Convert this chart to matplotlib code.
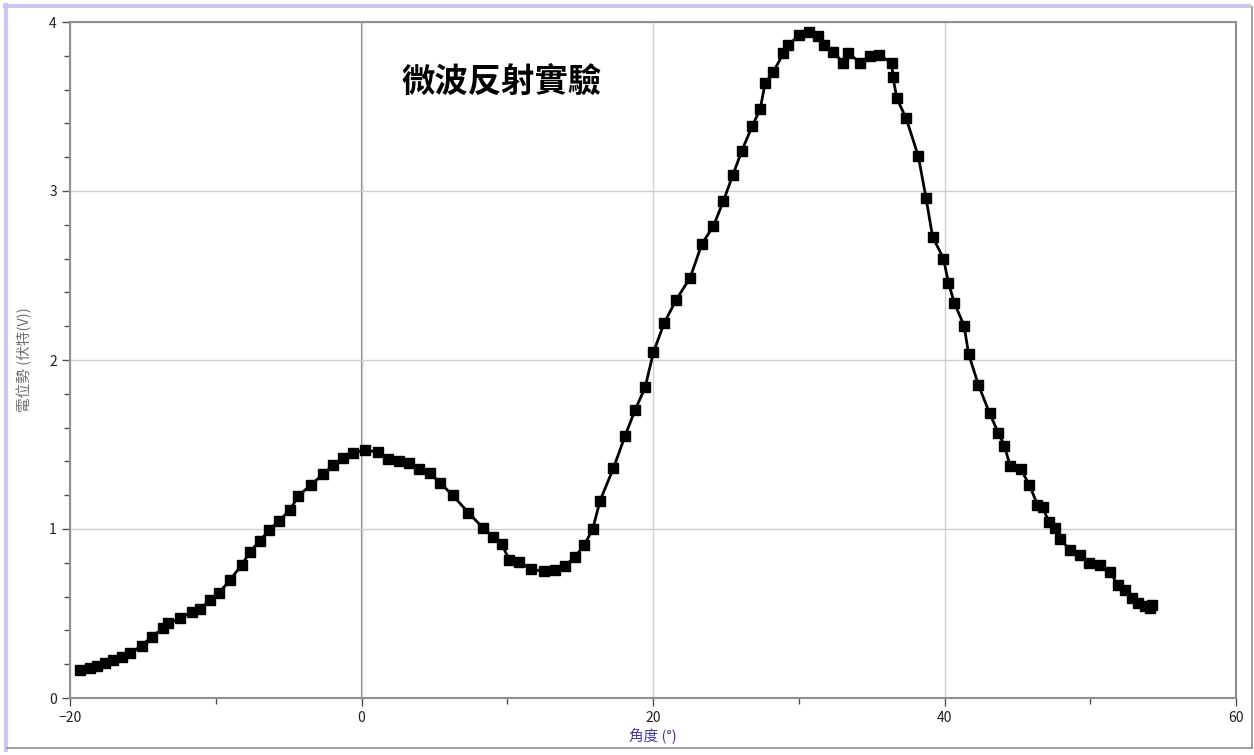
import matplotlib
matplotlib.use("Agg")
import matplotlib.pyplot as plt
from matplotlib.ticker import MultipleLocator

plt.rcParams['font.family'] = ['Noto Sans CJK TC', 'DejaVu Sans']

title = "微波反射實驗"
x_label = "角度 (°)"
y_label = "電位勢 (伏特(V))"

angle = [-19.32, -18.63, -18.18, -17.60, -17.03, -16.46, -15.89, -15.09, -14.40, -13.60,
         -13.26, -12.46, -11.65, -11.08, -10.40, -9.76, -9.03, -8.22, -7.65, -6.97,
         -6.33, -5.66, -4.91, -4.34, -3.49, -2.62, -1.94, -1.29, -0.56, 0.24,
         1.15, 1.84, 2.59, 3.28, 3.97, 4.70, 5.39, 6.26, 7.33, 8.36,
         9.05, 9.62, 10.14, 10.83, 11.61, 12.53, 13.28, 13.97, 14.65, 15.29,
         15.87, 16.37, 17.28, 18.08, 18.77, 19.46, 20.03, 20.76, 21.58, 22.55,
         23.35, 24.15, 24.83, 25.48, 26.09, 26.81, 27.35, 27.69, 28.26, 28.95,
         29.29, 30.05, 30.67, 31.35, 31.70, 32.38, 33.07, 33.41, 34.21, 34.90,
         35.54, 36.39, 36.46, 36.73, 37.37, 38.20, 38.73, 39.18, 39.93, 40.27,
         40.67, 41.35, 41.65, 42.33, 43.09, 43.70, 44.10, 44.51, 45.24, 45.83,
         46.38, 46.75, 47.14, 47.60, 47.94, 48.63, 49.31, 49.88, 50.69, 51.38,
         51.87, 52.40, 52.86, 53.31, 53.77, 54.12, 54.23]

voltage = [0.166, 0.176, 0.189, 0.205, 0.225, 0.245, 0.264, 0.308, 0.363, 0.412,
           0.442, 0.471, 0.511, 0.525, 0.580, 0.623, 0.698, 0.787, 0.866, 0.931,
           0.994, 1.049, 1.112, 1.195, 1.260, 1.325, 1.379, 1.418, 1.451, 1.467,
           1.455, 1.412, 1.404, 1.389, 1.353, 1.330, 1.274, 1.199, 1.097, 1.004,
           0.955, 0.911, 0.817, 0.807, 0.761, 0.751, 0.757, 0.781, 0.836, 0.905,
           1.002, 1.168, 1.359, 1.550, 1.704, 1.838, 2.046, 2.217, 2.355, 2.487,
           2.686, 2.793, 2.941, 3.095, 3.237, 3.385, 3.483, 3.637, 3.706, 3.815,
           3.864, 3.923, 3.943, 3.917, 3.864, 3.824, 3.755, 3.815, 3.760, 3.799,
           3.805, 3.755, 3.676, 3.548, 3.430, 3.207, 2.960, 2.730, 2.600, 2.457,
           2.339, 2.201, 2.036, 1.852, 1.685, 1.568, 1.494, 1.373, 1.353, 1.260,
           1.142, 1.128, 1.043, 1.004, 0.939, 0.876, 0.846, 0.801, 0.787, 0.747,
           0.669, 0.639, 0.590, 0.560, 0.544, 0.531, 0.550]

x_ticks = [-20, 0, 20, 40, 60]
y_ticks = [0, 1, 2, 3, 4]

W, H = 1254, 755
fig = plt.figure(figsize=(W / 100, H / 100), dpi=100)
fig.patch.set_facecolor('white')


def fx(px):
    return px / W


def fy(py):
    return 1 - py / H


# window frame: lavender top and left, gray right and bottom
fig.add_artist(plt.Line2D([fx(5), fx(1249)], [fy(5.5), fy(5.5)],
                          transform=fig.transFigure, color='#c8c8f0', linewidth=3))
fig.add_artist(plt.Line2D([fx(5.5), fx(5.5)], [fy(5), fy(750)],
                          transform=fig.transFigure, color='#c8c8f0', linewidth=3))
fig.add_artist(plt.Line2D([fx(1252), fx(1252)], [fy(7), fy(748)],
                          transform=fig.transFigure, color='#909090', linewidth=1.2))
fig.add_artist(plt.Line2D([fx(7), fx(1252)], [fy(748), fy(748)],
                          transform=fig.transFigure, color='#909090', linewidth=1.2))

ax = fig.add_axes([fx(70), fy(698), (1236 - 70) / W, (698 - 22) / H])
ax.set_xlim(-20, 60)
ax.set_ylim(0, 4)
ax.set_xticks(x_ticks)
ax.set_yticks(y_ticks)
ax.xaxis.set_minor_locator(MultipleLocator(10))
ax.yaxis.set_minor_locator(MultipleLocator(0.2))
ax.tick_params(which='major', direction='out', length=6, color='#505050',
               labelsize=10, labelcolor='#202020', width=1)
ax.tick_params(which='minor', direction='out', length=4, color='#505050', width=1)

ax.grid(True, which='major', color='#cfcfcf', linewidth=1)
ax.axvline(0, color='#808080', linewidth=1.5, zorder=1.5)
for s in ax.spines.values():
    s.set_color('#909090')
    s.set_linewidth(1.5)

ax.plot(angle, voltage, color='black', linewidth=2, marker='s',
        markersize=7.5, markerfacecolor='black', markeredgecolor='black', zorder=3)

ax.set_xlabel(x_label, fontsize=10.5, color='#3a3a9a', labelpad=2)
ax.set_ylabel(y_label, fontsize=10.5, color='#707070', labelpad=12)

fig.text(fx(502), fy(83), title, ha='center', va='center', fontsize=24,
         fontweight='bold', color='black')

fig.savefig('out.png', dpi=100)
